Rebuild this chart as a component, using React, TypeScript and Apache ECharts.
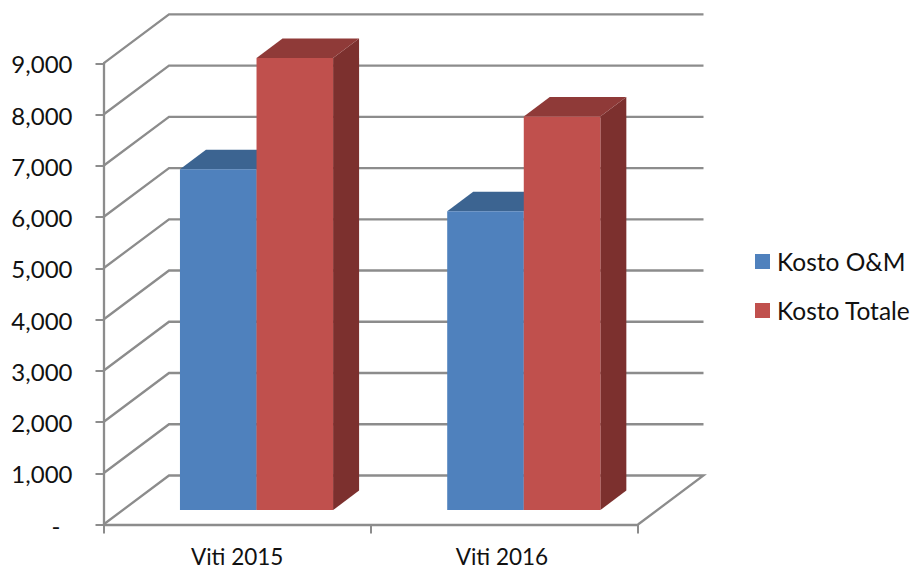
import React, { useEffect, useRef } from "react";
import * as echarts from "echarts";

const categories = ["Viti 2015", "Viti 2016"];
const omValues = [6650, 5830];
const totalValues = [8820, 7680];
const yTicks = [0, 1000, 2000, 3000, 4000, 5000, 6000, 7000, 8000, 9000];

const FONT = "Lato";
const GRID_COLOR = "#8c8c8c";
const WALL_DX = 65.5;
const WALL_DY = -49;
const BAR_OX = 19.4;
const BAR_OY = -14.4;
const BAR_DX = 26;
const BAR_DY = -19.5;
const BAR_RATIO = 0.2865;

const gridRender = (params: any, api: any) => {
  const v = api.value(1);
  const cs = params.coordSys;
  const y = api.coord([0, v])[1];
  const x0 = cs.x;
  const x1 = cs.x + cs.width;
  const children: any[] = [
    {
      type: "polyline",
      shape: {
        points:
          v === 0
            ? [
                [x0, y],
                [x0 + WALL_DX, y + WALL_DY],
                [x1 + WALL_DX, y + WALL_DY],
                [x1, y],
              ]
            : [
                [x0, y],
                [x0 + WALL_DX, y + WALL_DY],
                [x1 + WALL_DX, y + WALL_DY],
              ],
      },
      style: { stroke: GRID_COLOR, fill: "none", lineWidth: 2.3 },
    },
  ];
  return { type: "group", children };
};

const barRender =
  (slot: number, front: string, top: string, side: string) => (params: any, api: any) => {
    const cat = api.value(0);
    const val = api.value(1);
    const center = api.coord([cat, 0]);
    const tip = api.coord([cat, val]);
    const w = api.size([1, 0])[0] * BAR_RATIO;
    const x0 = center[0] + BAR_OX + slot * w;
    const x1 = x0 + w;
    const yb = center[1] + BAR_OY;
    const yt = tip[1] + BAR_OY;
    const poly = (points: number[][], fill: string) => ({
      type: "polygon",
      shape: { points },
      style: { fill, stroke: null },
    });
    return {
      type: "group",
      children: [
        poly(
          [
            [x1, yb],
            [x1 + BAR_DX, yb + BAR_DY],
            [x1 + BAR_DX, yt + BAR_DY],
            [x1, yt],
          ],
          side
        ),
        poly(
          [
            [x0, yt],
            [x0 + BAR_DX, yt + BAR_DY],
            [x1 + BAR_DX, yt + BAR_DY],
            [x1, yt],
          ],
          top
        ),
        poly(
          [
            [x0, yb],
            [x0, yt],
            [x1, yt],
            [x1, yb],
          ],
          front
        ),
      ],
    };
  };

export default function App() {
  const ref = useRef<HTMLDivElement>(null);
  useEffect(() => {
    document.body.style.margin = "0";
    const chart = echarts.init(ref.current!, null, { renderer: "svg" });
    chart.setOption({
      animation: false,
      backgroundColor: "#ffffff",
      textStyle: { fontFamily: FONT },
      grid: { left: 103.5, right: 274, top: 63.3, bottom: 45.5, containLabel: false },
      legend: {
        data: ["Kosto O&M", "Kosto Totale"],
        orient: "vertical",
        left: 755,
        top: 249,
        padding: 0,
        itemWidth: 15,
        itemHeight: 15,
        itemGap: 24,
        icon: "rect",
        selectedMode: false,
        textStyle: { fontFamily: FONT, fontSize: 24.5, color: "#111", padding: [0, 0, 3, 2] },
      },
      xAxis: {
        type: "category",
        data: categories,
        axisLine: { show: true, lineStyle: { color: GRID_COLOR, width: 2.3 } },
        axisTick: { show: true, length: 9, lineStyle: { color: GRID_COLOR, width: 2 } },
        axisLabel: {
          fontFamily: FONT,
          fontSize: 22.5,
          color: "#111",
          margin: 20.5,
          formatter: (v: string, i: number) => (i === 1 ? `{s|${v}}` : v),
          rich: { s: { fontFamily: FONT, fontSize: 22.5, color: "#111", padding: [0, 5, 0, 0] } },
        },
        splitLine: { show: false },
      },
      yAxis: {
        type: "value",
        min: 0,
        max: 9000,
        interval: 1000,
        axisLine: { show: true, lineStyle: { color: GRID_COLOR, width: 2.3 } },
        axisTick: { show: true, length: 8, lineStyle: { color: GRID_COLOR, width: 2 } },
        splitLine: { show: false },
        axisLabel: {
          fontFamily: FONT,
          fontSize: 24,
          color: "#111",
          margin: 31,
          padding: [1, 0, 0, 0],
          formatter: (v: number) => (v === 0 ? "{d|-}" : v.toLocaleString("en-US")),
          rich: { d: { fontFamily: FONT, fontSize: 24, color: "#111", padding: [0, 12, 0, 0] } },
        },
      },
      series: [
        {
          type: "custom",
          name: "grid",
          silent: true,
          z: 1,
          renderItem: gridRender,
          encode: { x: 0, y: 1 },
          data: yTicks.map((v) => [0, v]),
        },
        {
          type: "custom",
          name: "Kosto O&M",
          z: 3,
          itemStyle: { color: "#4f81bd" },
          renderItem: barRender(-1, "#4f81bd", "#3c6491", "#33557f"),
          encode: { x: 0, y: 1 },
          data: omValues.map((v, i) => [i, v]),
        },
        {
          type: "custom",
          name: "Kosto Totale",
          z: 4,
          itemStyle: { color: "#c0504d" },
          renderItem: barRender(0, "#c0504d", "#8f3a38", "#7c302e"),
          encode: { x: 0, y: 1 },
          data: totalValues.map((v, i) => [i, v]),
        },
      ],
    });
    return () => chart.dispose();
  }, []);
  return <div ref={ref} style={{ position: "absolute", left: 0, top: 0, width: 912, height: 570 }} />;
}
